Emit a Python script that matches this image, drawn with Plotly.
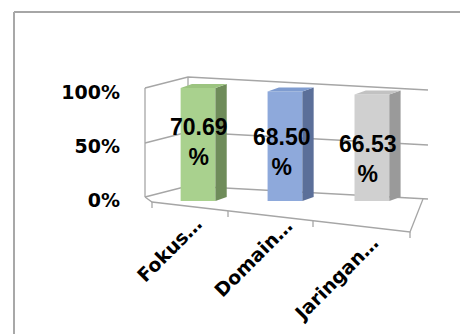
import plotly.graph_objects as go

categories = ["Fokus\u2026", "Domain\u2026", "Jaringan\u2026"]
values = [0.7069, 0.6850, 0.6653]
value_labels = ["70.69<br>%", "68.50<br>%", "66.53<br>%"]
wall_ticks = [0, 0.5, 1.0]
wall_tick_text = ["0%", "50%", "100%"]

front_colors = ["#A9D18E", "#8EA9DB", "#D0D0D0"]
side_colors = ["#6F8C5A", "#5B6F99", "#9A9A9A"]
top_colors = ["#9CC480", "#7F9CD0", "#C2C2C2"]

W, H = 460, 334


def px(x, y):
    return x / W, 1 - y / H


xs = list(range(len(categories)))
HW = 0.2      # half bar width (x units)
DX = 0.13     # depth offset in x units
DY = 0.025    # depth offset in y2 units

fig = go.Figure()

fig.add_trace(go.Scatter(x=[0, 0], y=[0, 1], xaxis="x", yaxis="y", mode="markers",
                         marker=dict(opacity=0), hoverinfo="skip", showlegend=False))

fig.add_trace(go.Bar(x=xs, y=values, width=2 * HW, xaxis="x", yaxis="y2",
                     marker=dict(color=front_colors, line=dict(width=0)),
                     showlegend=False, hoverinfo="skip"))

for i, v in enumerate(values):
    sx = [i + HW, i + HW + DX, i + HW + DX, i + HW, i + HW]
    sy = [0, DY, v + DY, v, 0]
    fig.add_trace(go.Scatter(x=sx, y=sy, xaxis="x", yaxis="y2", mode="lines",
                             fill="toself", fillcolor=side_colors[i],
                             line=dict(width=0), hoverinfo="skip", showlegend=False))
    tx = [i - HW, i + HW, i + HW + DX, i - HW + DX, i - HW]
    ty = [v, v, v + DY, v + DY, v]
    fig.add_trace(go.Scatter(x=tx, y=ty, xaxis="x", yaxis="y2", mode="lines",
                             fill="toself", fillcolor=top_colors[i],
                             line=dict(width=0), hoverinfo="skip", showlegend=False))

annotations = []
label_dy = [2, -6, -11]
label_dx = [1, -3, -4]
for i, v in enumerate(values):
    annotations.append(dict(x=i, y=v / 2, xref="x", yref="y2", text=value_labels[i],
                            showarrow=False, xshift=label_dx[i], yshift=label_dy[i],
                            font=dict(family="Liberation Sans", size=23, color="black",
                                      weight="bold")))
cat_dx = [11, 14, 14]
cat_dy = [-8, -11, -28]
for i, c in enumerate(categories):
    annotations.append(dict(x=i, y=0, xref="x", yref="y2", text=c, textangle=-45,
                            showarrow=False, xanchor="right", yanchor="top",
                            xshift=cat_dx[i], yshift=cat_dy[i],
                            font=dict(family="DejaVu Sans", size=19, color="black",
                                      weight="bold")))

shapes = []
gcol = "#A6A6A6"


def seg(points, color=gcol, width=1.3):
    path = ""
    for k, (x, y) in enumerate(points):
        X, Y = px(x, y)
        path += ("M" if k == 0 else "L") + f"{X},{Y} "
    shapes.append(dict(type="path", path=path, xref="paper", yref="paper",
                       line=dict(color=color, width=width), layer="below"))


for yl in [88, 143, 197]:
    seg([(145, yl), (188, yl - 11), (428, yl + 2)])
seg([(145, 88), (145, 197)])
seg([(188, 77), (188, 186)])
seg([(145, 197), (152, 202), (410, 232), (423, 199)])
for (fx, fy) in [(152, 202), (228, 211), (313, 221), (410, 232)]:
    seg([(fx, fy), (fx, fy + 6)])
seg([(14, 12), (460, 12)], color="#888888", width=1.5)
seg([(14, 12), (14, 334)], color="#A8A8A8", width=2)

fig.update_layout(
    template="none",
    width=W, height=H, autosize=False,
    margin=dict(l=0, r=0, t=0, b=0, pad=0, autoexpand=False),
    paper_bgcolor="white", plot_bgcolor="rgba(0,0,0,0)",
    showlegend=False,
    xaxis=dict(domain=[0.336, 0.903], range=[-0.5, 2.5], showticklabels=False,
               showgrid=False, zeroline=False, showline=False, fixedrange=True,
               automargin=False, ticks=""),
    yaxis=dict(domain=[1 - 200 / H, 1 - 92 / H], range=[0, 1], anchor="free",
               position=145 / W, tickvals=wall_ticks, ticktext=wall_tick_text,
               showgrid=False, zeroline=False, showline=False, ticks="",
               ticklabelstandoff=25, automargin=False,
               tickfont=dict(family="DejaVu Sans", size=19, color="black", weight="bold")),
    yaxis2=dict(domain=[1 - 201 / H, 1 - 73 / H], range=[0, 0.8], anchor="x",
                showticklabels=False, showgrid=False, zeroline=False, showline=False,
                automargin=False, ticks=""),
    annotations=annotations,
    shapes=shapes,
)

post = ("document.body.style.margin='0';document.body.style.padding='0';"
        "var d=document.getElementById('{plot_id}');"
        "d.style.position='absolute';d.style.left='0px';d.style.top='0px';")
fig.write_html("out.html", post_script=post, config={"displayModeBar": False})
